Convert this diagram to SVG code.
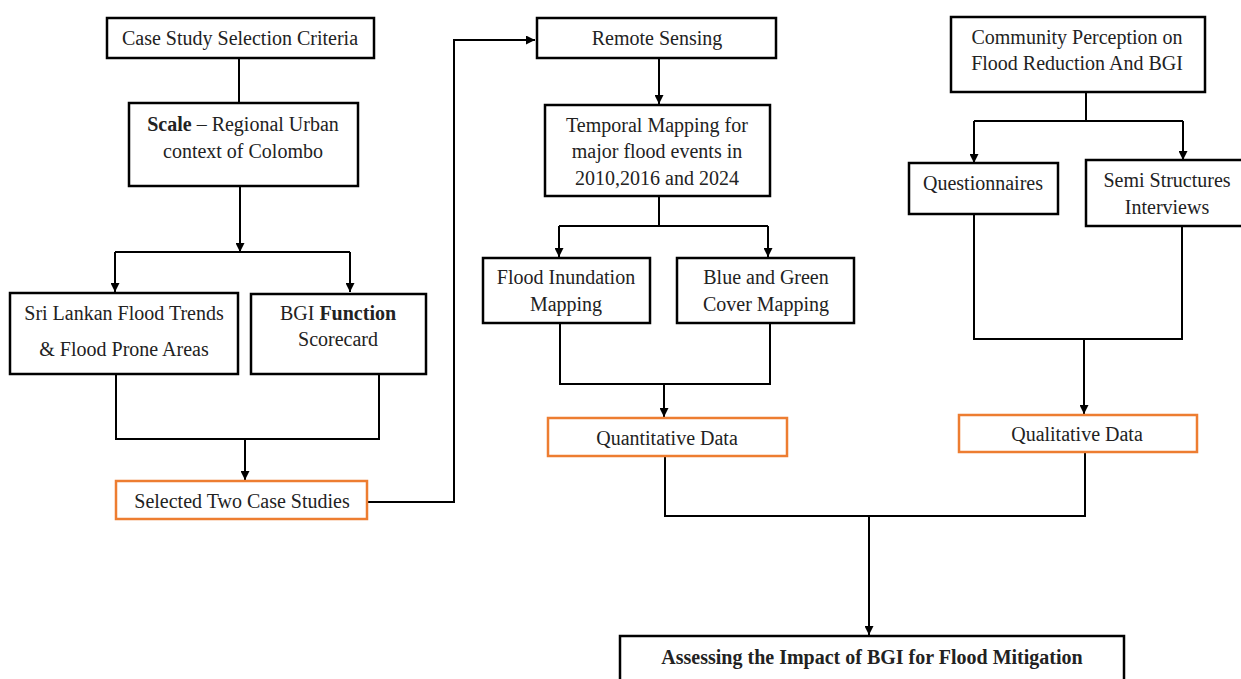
<svg xmlns="http://www.w3.org/2000/svg" width="1241" height="679" viewBox="0 0 1241 679">
<defs>
<marker id="arr" viewBox="0 0 10 10" refX="10" refY="5" markerWidth="9" markerHeight="9" markerUnits="userSpaceOnUse" orient="auto">
<path d="M0,0 L10,5 L0,10 z" fill="#000"/>
</marker>
<style>
.box{fill:#fff;stroke:#000;stroke-width:2.5}
.obox{fill:#fff;stroke:#ED7D31;stroke-width:2.5}
.ln{fill:none;stroke:#000;stroke-width:2}
.arw{fill:none;stroke:#000;stroke-width:2;marker-end:url(#arr)}
text{font-family:"Liberation Serif","Times New Roman",serif;font-size:20px;fill:#222;text-anchor:middle}
.b{font-weight:bold}
</style>
</defs>
<rect width="1241" height="679" fill="#fff"/>
<g id="connectors">
<path class="ln" d="M239,58 V103"/>
<path class="arw" d="M240,186 V252"/>
<path class="ln" d="M115,252 H350"/>
<path class="arw" d="M115,252 V292"/>
<path class="arw" d="M350,252 V292"/>
<path class="ln" d="M116,374 V439 H379 V374"/>
<path class="arw" d="M245,439 V480"/>
<path class="arw" d="M367,502 H454 V40 H535"/>
<path class="arw" d="M659,58 V104"/>
<path class="ln" d="M659,196 V226"/>
<path class="ln" d="M559,226 H768"/>
<path class="arw" d="M559,226 V257"/>
<path class="arw" d="M768,226 V257"/>
<path class="ln" d="M560,323 V384 H770 V323"/>
<path class="arw" d="M664,384 V417"/>
<path class="ln" d="M1086,92 V121"/>
<path class="ln" d="M974,121 H1183"/>
<path class="arw" d="M974,121 V163"/>
<path class="arw" d="M1183,121 V160"/>
<path class="ln" d="M974,214 V339 H1182 V226"/>
<path class="arw" d="M1084,339 V414"/>
<path class="ln" d="M665,456 V516 H1085 V452"/>
<path class="arw" d="M869,516 V635"/>
</g>
<g id="n-case-criteria"><rect class="box" x="107" y="18" width="267" height="40"/><text x="240" y="45">Case Study Selection Criteria</text></g>
<g id="n-scale"><rect class="box" x="129" y="103" width="229" height="83"/><text x="243" y="131"><tspan class="b">Scale</tspan> – Regional Urban</text><text x="243" y="158">context of Colombo</text></g>
<g id="n-srilanka"><rect class="box" x="10" y="293" width="228" height="81"/><text x="124" y="320">Sri Lankan Flood Trends</text><text x="124" y="356">&amp; Flood Prone Areas</text></g>
<g id="n-bgi-function"><rect class="box" x="251" y="294" width="175" height="80"/><text x="338" y="320">BGI <tspan class="b">Function</tspan></text><text x="338" y="346">Scorecard</text></g>
<g id="n-selected"><rect class="obox" x="116" y="481" width="251" height="38"/><text x="242" y="508">Selected Two Case Studies</text></g>
<g id="n-remote"><rect class="box" x="537" y="18" width="239" height="40"/><text x="657" y="45">Remote Sensing</text></g>
<g id="n-temporal"><rect class="box" x="545" y="105" width="225" height="91"/><text x="657" y="132">Temporal Mapping for</text><text x="657" y="158">major flood events in</text><text x="657" y="185">2010,2016 and 2024</text></g>
<g id="n-inundation"><rect class="box" x="483" y="258" width="167" height="65"/><text x="566" y="284">Flood Inundation</text><text x="566" y="311">Mapping</text></g>
<g id="n-bluegreen"><rect class="box" x="677" y="258" width="177" height="65"/><text x="766" y="284">Blue and Green</text><text x="766" y="311">Cover Mapping</text></g>
<g id="n-quant"><rect class="obox" x="548" y="418" width="239" height="38"/><text x="667" y="445">Quantitative Data</text></g>
<g id="n-community"><rect class="box" x="951" y="17" width="254" height="75"/><text x="1077" y="44">Community Perception on</text><text x="1077" y="70">Flood Reduction And BGI</text></g>
<g id="n-question"><rect class="box" x="909" y="163" width="149" height="51"/><text x="983" y="190">Questionnaires</text></g>
<g id="n-semi"><rect class="box" x="1086" y="160" width="164" height="66"/><text x="1167" y="187">Semi Structures</text><text x="1167" y="214">Interviews</text></g>
<g id="n-qual"><rect class="obox" x="959" y="415" width="238" height="37"/><text x="1077" y="441">Qualitative Data</text></g>
<g id="n-assess"><rect class="box" x="620" y="636" width="504" height="60"/><text class="b" x="872" y="664">Assessing the Impact of BGI for Flood Mitigation</text></g>
</svg>
